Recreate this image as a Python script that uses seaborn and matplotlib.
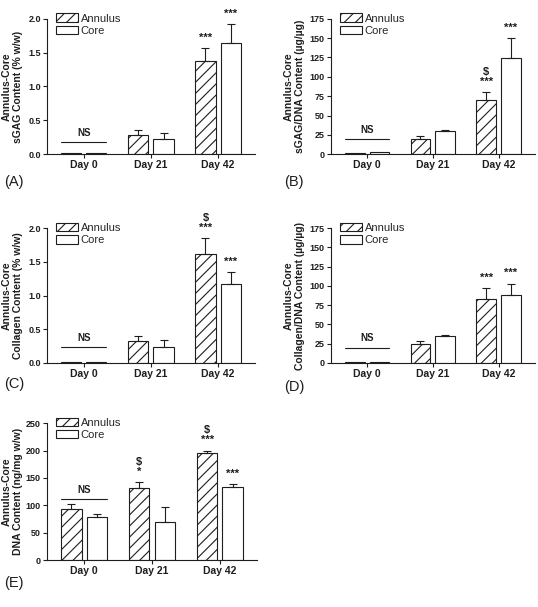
import matplotlib.pyplot as plt
import seaborn as sns
import pandas as pd
import numpy as np
from matplotlib.patches import Patch

# ---------------------------------------------------------------
# data
# ---------------------------------------------------------------
days = ['Day 0', 'Day 21', 'Day 42']
groups = ['Annulus', 'Core']

# (A) sGAG % w/w
sgag_ann = [0.02, 0.28, 1.37]
sgag_ann_err = [0.0, 0.08, 0.20]
sgag_core = [0.02, 0.22, 1.65]
sgag_core_err = [0.0, 0.09, 0.27]

# (B) sGAG/DNA
sgagdna_ann = [2.0, 20.0, 70.0]
sgagdna_ann_err = [0.0, 3.0, 10.0]
sgagdna_core = [2.5, 30.0, 124.0]
sgagdna_core_err = [0.0, 1.5, 26.0]

# (C) collagen % w/w
col_ann = [0.012, 0.33, 1.62]
col_ann_err = [0.0, 0.07, 0.23]
col_core = [0.01, 0.24, 1.17]
col_core_err = [0.0, 0.10, 0.18]

# (D) collagen/DNA
coldna_ann = [1.2, 25.0, 83.0]
coldna_ann_err = [0.0, 3.0, 14.0]
coldna_core = [1.2, 35.0, 88.0]
coldna_core_err = [0.0, 1.0, 15.0]

# (E) DNA ng/mg
dna_ann = [94.0, 132.0, 195.0]
dna_ann_err = [8.0, 10.0, 5.0]
dna_core = [78.0, 70.0, 134.0]
dna_core_err = [7.0, 27.0, 5.0]

panels = [
    dict(tag='(A)', ann=sgag_ann, ann_err=sgag_ann_err, core=sgag_core, core_err=sgag_core_err,
         ylabel='Annulus-Core\nsGAG Content (% w/w)', yticks=[0, 0.5, 1.0, 1.5, 2.0], fmt='{:.1f}',
         ns=0.18, marks=[(2, 0, '***'), (2, 1, '***')]),
    dict(tag='(B)', ann=sgagdna_ann, ann_err=sgagdna_ann_err, core=sgagdna_core, core_err=sgagdna_core_err,
         ylabel='Annulus-Core\nsGAG/DNA Content (\u00b5g/\u00b5g)', yticks=[0, 25, 50, 75, 100, 125, 150, 175], fmt='{:.0f}',
         ns=20, marks=[(2, 0, '$\n***'), (2, 1, '***')]),
    dict(tag='(C)', ann=col_ann, ann_err=col_ann_err, core=col_core, core_err=col_core_err,
         ylabel='Annulus-Core\nCollagen Content (% w/w)', yticks=[0, 0.5, 1.0, 1.5, 2.0], fmt='{:.1f}',
         ns=0.23, marks=[(2, 0, '$\n***'), (2, 1, '***')]),
    dict(tag='(D)', ann=coldna_ann, ann_err=coldna_ann_err, core=coldna_core, core_err=coldna_core_err,
         ylabel='Annulus-Core\nCollagen/DNA Content (\u00b5g/\u00b5g)', yticks=[0, 25, 50, 75, 100, 125, 150, 175], fmt='{:.0f}',
         ns=20, marks=[(2, 0, '***'), (2, 1, '***')]),
    dict(tag='(E)', ann=dna_ann, ann_err=dna_ann_err, core=dna_core, core_err=dna_core_err,
         ylabel='Annulus-Core\nDNA Content (ng/mg w/w)', yticks=[0, 50, 100, 150, 200, 250], fmt='{:.0f}',
         ns=112, marks=[(1, 0, '$\n*'), (2, 0, '$\n***'), (2, 1, '***')]),
]

# axes boxes in figure fraction: left, bottom, width, height
boxes = [
    [0.087, 0.746, 0.387, 0.223],
    [0.615, 0.746, 0.379, 0.223],
    [0.087, 0.402, 0.387, 0.222],
    [0.615, 0.402, 0.379, 0.222],
    [0.087, 0.077, 0.391, 0.226],
]
ylab_x = [-0.115, -0.127, -0.115, -0.127, -0.114]
tag_pos = [(0.008, 0.700), (0.528, 0.700), (0.008, 0.367), (0.528, 0.363), (0.008, 0.040)]

INK = '#1e1e1e'
sns.set_theme(style='ticks')
plt.rcParams['hatch.linewidth'] = 0.8
plt.rcParams['hatch.color'] = INK
plt.rcParams['font.family'] = ['Liberation Sans', 'DejaVu Sans']
NARROW = ['Liberation Sans Narrow', 'Liberation Sans', 'DejaVu Sans']

fig = plt.figure(figsize=(5.38, 6.07), dpi=100)

for p, box, lx, tpos in zip(panels, boxes, ylab_x, tag_pos):
    ax = fig.add_axes(box)
    df = pd.DataFrame({
        'day': days * 2,
        'group': ['Annulus'] * 3 + ['Core'] * 3,
        'value': p['ann'] + p['core'],
    })
    sns.barplot(data=df, x='day', y='value', hue='group', order=days, hue_order=groups,
                palette={'Annulus': 'white', 'Core': 'white'}, saturation=1,
                edgecolor=INK, linewidth=0.8, width=0.75, gap=0.2,
                errorbar=None, legend=False, ax=ax)
    bar_conts = list(ax.containers)
    for bar in bar_conts[0]:
        bar.set_hatch('///')

    errs = [p['ann_err'], p['core_err']]
    tops = {}
    for gi, cont in enumerate(bar_conts):
        for di, bar in enumerate(cont):
            x = bar.get_x() + bar.get_width() / 2
            h = bar.get_height()
            e = errs[gi][di]
            if e > 0:
                ax.errorbar(x, h, yerr=[[0], [e]], fmt='none', ecolor=INK,
                            elinewidth=0.8, capsize=3, capthick=0.8)
            tops[(di, gi)] = (x, h + e, bar)

    # significance marks
    for di, gi, lab in p['marks']:
        x, top, _ = tops[(di, gi)]
        ax.annotate(lab.replace('$', r'\$'), xy=(x, top), xytext=(0, 4), textcoords='offset points',
                    ha='center', va='bottom', fontsize=8, fontweight='bold', color=INK,
                    linespacing=1.0, annotation_clip=False)

    # NS bracket over day 0
    b0 = tops[(0, 0)][2]
    b1 = tops[(0, 1)][2]
    x0, x1 = b0.get_x(), b1.get_x() + b1.get_width()
    ax.plot([x0, x1], [p['ns'], p['ns']], color=INK, lw=0.8)
    ax.annotate('NS', xy=((x0 + x1) / 2, p['ns']), xytext=(0, 3), textcoords='offset points',
                ha='center', va='bottom', fontsize=7, fontweight='bold', color=INK)

    ax.set_xlim(-0.55, 2.55)
    ax.set_ylim(p['yticks'][0], p['yticks'][-1])
    ax.set_yticks(p['yticks'])
    ax.set_yticklabels([p['fmt'].format(t) for t in p['yticks']])
    ax.set_xlabel('')
    ax.set_ylabel(p['ylabel'], fontsize=7.5, fontweight='bold', color=INK, linespacing=1.1,
                  family=NARROW)
    ax.yaxis.set_label_coords(lx, 0.5)
    ax.tick_params(axis='both', colors=INK, length=2.8, width=0.8, pad=1.5)
    ax.tick_params(axis='x', labelsize=7.5)
    ax.tick_params(axis='y', labelsize=6.5)
    for lab in ax.get_xticklabels() + ax.get_yticklabels():
        lab.set_fontweight('bold')
    sns.despine(ax=ax)
    for s in ['left', 'bottom']:
        ax.spines[s].set_color(INK)
        ax.spines[s].set_linewidth(0.8)

    handles = [Patch(facecolor='white', edgecolor=INK, hatch='///', lw=0.8, label='Annulus'),
               Patch(facecolor='white', edgecolor=INK, lw=0.8, label='Core')]
    ax.legend(handles=handles, loc='upper left', bbox_to_anchor=(0.045, 1.04), frameon=False,
              fontsize=8, handlelength=2.0, handleheight=0.8, handletextpad=0.2,
              labelspacing=0.2, borderaxespad=0.0, borderpad=0.0)

    fig.text(tpos[0], tpos[1], p['tag'], fontsize=10.5, color=INK, ha='left', va='center')

fig.savefig('out.png', dpi=100, facecolor='white')
